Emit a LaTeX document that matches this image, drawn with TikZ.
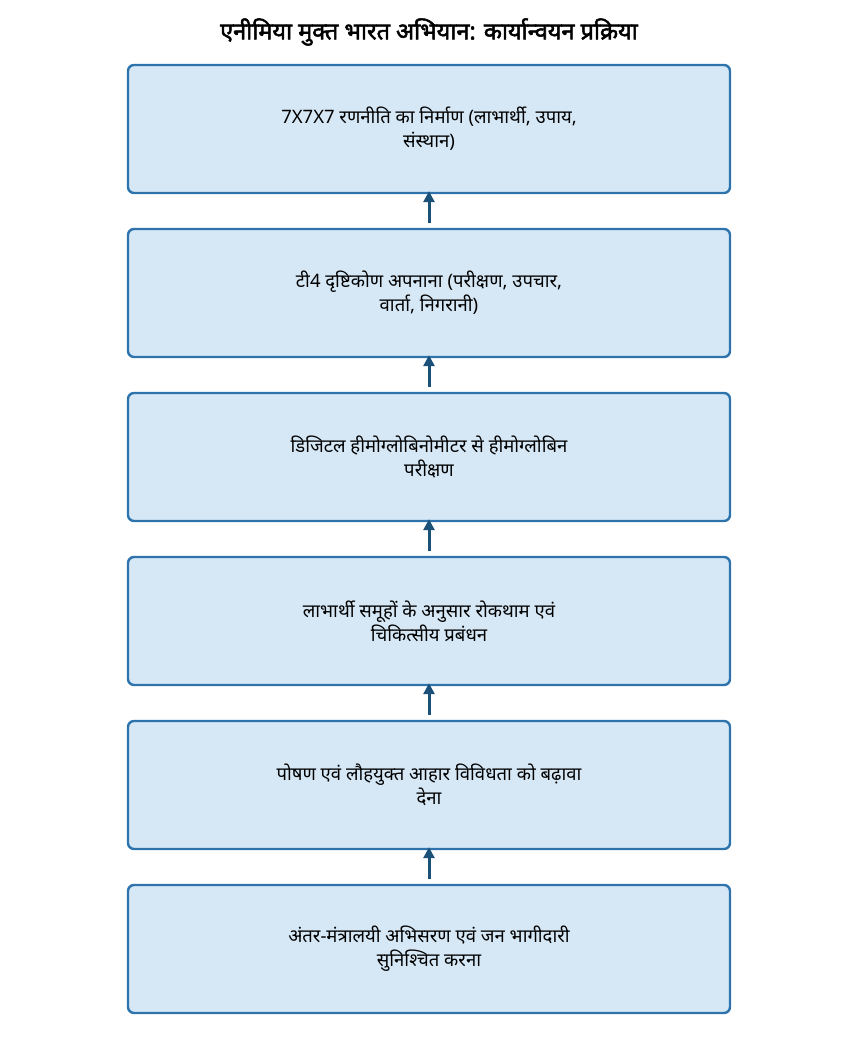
\documentclass[tikz,border=0pt]{standalone}
\usepackage{fontspec}
\setmainfont[Script=Devanagari]{Noto Sans}
\newfontfamily\titlefont[Script=Devanagari, FakeBold=2.2]{Noto Sans}
\usetikzlibrary{arrows.meta}
\definecolor{boxfill}{HTML}{D6E8F6}
\definecolor{boxline}{HTML}{2E73AC}
\definecolor{arrowc}{HTML}{1B5079}
\tikzset{
  stepbox/.style={draw=boxline, fill=boxfill, line width=2.4pt, rounded corners=6pt,
    minimum width=602pt, minimum height=128pt, inner sep=0pt,
    align=center, font=\fontsize{18.5}{24}\selectfont, text=black},
  flowarrow/.style={draw=arrowc, line width=3pt,
    -{Triangle[length=11pt,width=11pt]}, shorten <=5pt, shorten >=-3pt},
  titletext/.style={font=\titlefont\fontsize{23.5}{27}\selectfont}
}
\begin{document}
\begin{tikzpicture}[x=1pt,y=-1pt]
\useasboundingbox (0,0) rectangle (858,1053);
\node[titletext] (title) at (429,32) {एनीमिया मुक्त भारत अभियान: कार्यान्वयन प्रक्रिया};
\node[stepbox] (b1) at (429,129) {7X7X7 रणनीति का निर्माण (लाभार्थी, उपाय,\\संस्थान)};
\node[stepbox] (b2) at (429,293) {टी4 दृष्टिकोण अपनाना (परीक्षण, उपचार,\\वार्ता, निगरानी)};
\node[stepbox] (b3) at (429,457) {डिजिटल हीमोग्लोबिनोमीटर से हीमोग्लोबिन\\परीक्षण};
\node[stepbox] (b4) at (429,621) {लाभार्थी समूहों के अनुसार रोकथाम एवं\\चिकित्सीय प्रबंधन};
\node[stepbox] (b5) at (429,785) {पोषण एवं लौहयुक्त आहार विविधता को बढ़ावा\\देना};
\node[stepbox] (b6) at (429,949) {अंतर-मंत्रालयी अभिसरण एवं जन भागीदारी\\सुनिश्चित करना};
\draw[flowarrow] (b2.north) -- (b1.south);
\draw[flowarrow] (b3.north) -- (b2.south);
\draw[flowarrow] (b4.north) -- (b3.south);
\draw[flowarrow] (b5.north) -- (b4.south);
\draw[flowarrow] (b6.north) -- (b5.south);
\end{tikzpicture}
\end{document}
